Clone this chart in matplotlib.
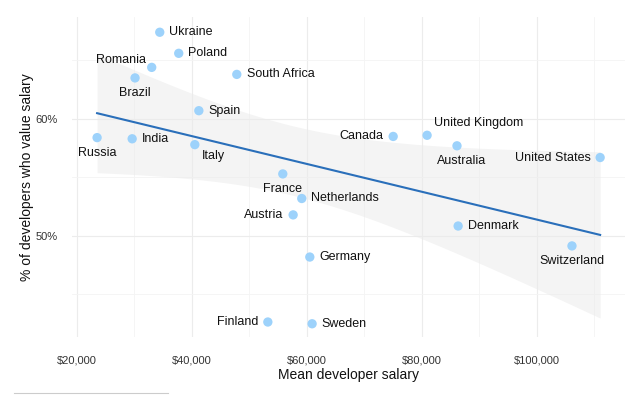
import numpy as np
import matplotlib
matplotlib.use('agg')
import matplotlib.pyplot as plt
from matplotlib.lines import Line2D
from matplotlib.ticker import FuncFormatter, MultipleLocator

plt.rcParams['font.family'] = ['Liberation Sans', 'DejaVu Sans']

countries = ['Ukraine', 'Poland', 'Romania', 'Brazil', 'South Africa', 'Spain',
             'Russia', 'India', 'Italy', 'France', 'Netherlands', 'Austria',
             'Germany', 'Finland', 'Sweden', 'Canada', 'United Kingdom',
             'Australia', 'United States', 'Denmark', 'Switzerland']
salary = [34400, 37700, 33000, 30100, 47800, 41200,
          23500, 29600, 40500, 55800, 59100, 57600,
          60500, 53200, 60900, 75000, 80900,
          86100, 111000, 86300, 106100]
value_pct = [0.674, 0.656, 0.644, 0.635, 0.638, 0.607,
             0.584, 0.583, 0.578, 0.553, 0.532, 0.518,
             0.482, 0.4265, 0.425, 0.585, 0.586,
             0.577, 0.567, 0.5085, 0.4915]
# label placement: (dx points, dy points, ha, va)
label_pos = {
    'Ukraine': (7, 0, 'left', 'center'),
    'Poland': (7, 0, 'left', 'center'),
    'Romania': (-4, 5, 'right', 'center'),
    'Brazil': (0, -11, 'center', 'center'),
    'South Africa': (7, 0, 'left', 'center'),
    'Spain': (7, 0, 'left', 'center'),
    'Russia': (0, -11, 'center', 'center'),
    'India': (7, 0, 'left', 'center'),
    'Italy': (5, -8, 'left', 'center'),
    'France': (0, -11, 'center', 'center'),
    'Netherlands': (7, 0, 'left', 'center'),
    'Austria': (-7, 0, 'right', 'center'),
    'Germany': (7, 0, 'left', 'center'),
    'Finland': (-7, 0, 'right', 'center'),
    'Sweden': (7, 0, 'left', 'center'),
    'Canada': (-7, 0, 'right', 'center'),
    'United Kingdom': (5, 9, 'left', 'center'),
    'Australia': (3, -11, 'center', 'center'),
    'United States': (-7, 0, 'right', 'center'),
    'Denmark': (7, 0, 'left', 'center'),
    'Switzerland': (0, -11, 'center', 'center'),
}

x = np.array(salary, dtype=float)
y = np.array(value_pct)

fig = plt.figure(figsize=(6.28, 3.96), dpi=100)
ax = fig.add_axes([0.1146, 0.149, 0.8804, 0.808])

# linear fit with 95% confidence band
n = len(x)
b, a = np.polyfit(x, y, 1)
xs = np.linspace(x.min(), x.max(), 100)
ys = a + b * xs
resid = y - (a + b * x)
s = np.sqrt(np.sum(resid ** 2) / (n - 2))
sxx = np.sum((x - x.mean()) ** 2)
se = s * np.sqrt(1 / n + (xs - x.mean()) ** 2 / sxx)
t = 2.093  # t(0.975, 19)
ax.fill_between(xs, ys - t * se, ys + t * se, color='#ebebeb', alpha=0.55,
                lw=0, zorder=1)
ax.plot(xs, ys, color='#2a6fba', lw=1.5, zorder=2)

ax.scatter(x, y, s=45, color='#9dd2fb', edgecolor='none', zorder=3)
for c, xi, yi in zip(countries, x, y):
    dx, dy, ha, va = label_pos[c]
    ax.annotate(c, (xi, yi), xytext=(dx, dy), textcoords='offset points',
                ha=ha, va=va, fontsize=9, color='#111111', zorder=4)

ax.set_xlim(19130, 115300)
ax.set_ylim(0.4137, 0.687)
ax.xaxis.set_major_locator(MultipleLocator(20000))
ax.xaxis.set_minor_locator(MultipleLocator(10000))
ax.yaxis.set_major_locator(MultipleLocator(0.1))
ax.yaxis.set_minor_locator(MultipleLocator(0.05))
ax.xaxis.set_major_formatter(FuncFormatter(lambda v, p: '${:,.0f}'.format(v)))
ax.yaxis.set_major_formatter(FuncFormatter(lambda v, p: '{:.0f}%'.format(v * 100)))
ax.grid(which='major', color='#ececec', lw=0.8)
ax.grid(which='minor', color='#f4f4f4', lw=0.6)
ax.set_axisbelow(True)
ax.tick_params(which='both', length=0, labelsize=8, colors='#333333')
ax.tick_params(axis='x', pad=13)
ax.tick_params(axis='y', pad=10)
for sp in ax.spines.values():
    sp.set_visible(False)

ax.set_xlabel('Mean developer salary', fontsize=10, color='#111111', labelpad=2)
ax.set_ylabel('% of developers who value salary', fontsize=10, color='#111111',
              labelpad=1)

fig.add_artist(Line2D([14 / 628, 168 / 628], [3 / 396, 3 / 396],
                      color='#cccccc', lw=0.8))

fig.savefig('out.png', dpi=100)
